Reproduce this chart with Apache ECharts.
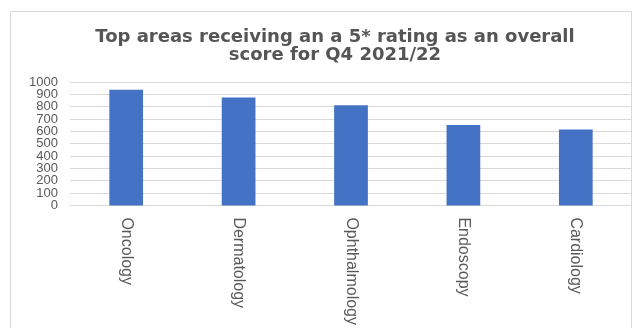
<!DOCTYPE html>
<html>
<head>
<meta charset="utf-8">
<script src="https://cdn.jsdelivr.net/npm/echarts@6/dist/echarts.min.js"></script>
<style>html,body{margin:0;padding:0;background:#fff}#c{width:638px;height:328px}</style>
</head>
<body>
<div id="c"></div>
<script>
const categories = ['Oncology', 'Dermatology', 'Ophthalmology', 'Endoscopy', 'Cardiology'];
const values = [938, 874, 812, 651, 616];
const yTicks = { min: 0, max: 1000, interval: 100 };
const titleText = 'Top areas receiving an a 5* rating as an overall\nscore for Q4 2021/22';

const yLabelStyle = { fontSize: 13, color: '#595959', fontFamily: 'Liberation Sans', margin: 12,
  formatter: function (v) { return String(v); } };

const chart = echarts.init(document.getElementById('c'), null, { renderer: 'canvas' });
chart.setOption({
  animation: false,
  backgroundColor: '#ffffff',
  graphic: [{
    type: 'rect', silent: true, z: -1,
    shape: { x: 10.5, y: 11.5, width: 621, height: 340 },
    style: { fill: null, stroke: '#d9d9d9', lineWidth: 1 }
  }],
  title: {
    text: titleText, left: 330, textAlign: 'center', top: 23,
    textStyle: { fontFamily: 'DejaVu Sans', fontWeight: 'bold', fontSize: 18, color: '#555555', lineHeight: 18 }
  },
  grid: { left: 70, right: 6, top: 82, bottom: 122, containLabel: false },
  xAxis: {
    type: 'category', data: categories,
    axisTick: { show: false },
    axisLine: { lineStyle: { color: '#d9d9d9' } },
    axisLabel: { rotate: -90, margin: 12, fontSize: 16, color: '#595959', fontFamily: 'Liberation Sans' }
  },
  yAxis: [{
    type: 'value', min: yTicks.min, max: yTicks.max, interval: yTicks.interval,
    axisLine: { show: false }, axisTick: { show: false },
    splitLine: { lineStyle: { color: '#d9d9d9' } },
    axisLabel: Object.assign({ hideOverlap: false }, yLabelStyle)
  }, {
    type: 'value', position: 'left', min: yTicks.min, max: yTicks.max, interval: yTicks.max,
    axisLine: { show: false }, axisTick: { show: false }, splitLine: { show: false },
    axisLabel: Object.assign({ showMinLabel: true, showMaxLabel: true }, yLabelStyle)
  }],
  series: [{
    type: 'bar', data: values, barWidth: '30%', yAxisIndex: 0,
    itemStyle: { color: '#4472C4' }
  }]
});
</script>
</body>
</html>
